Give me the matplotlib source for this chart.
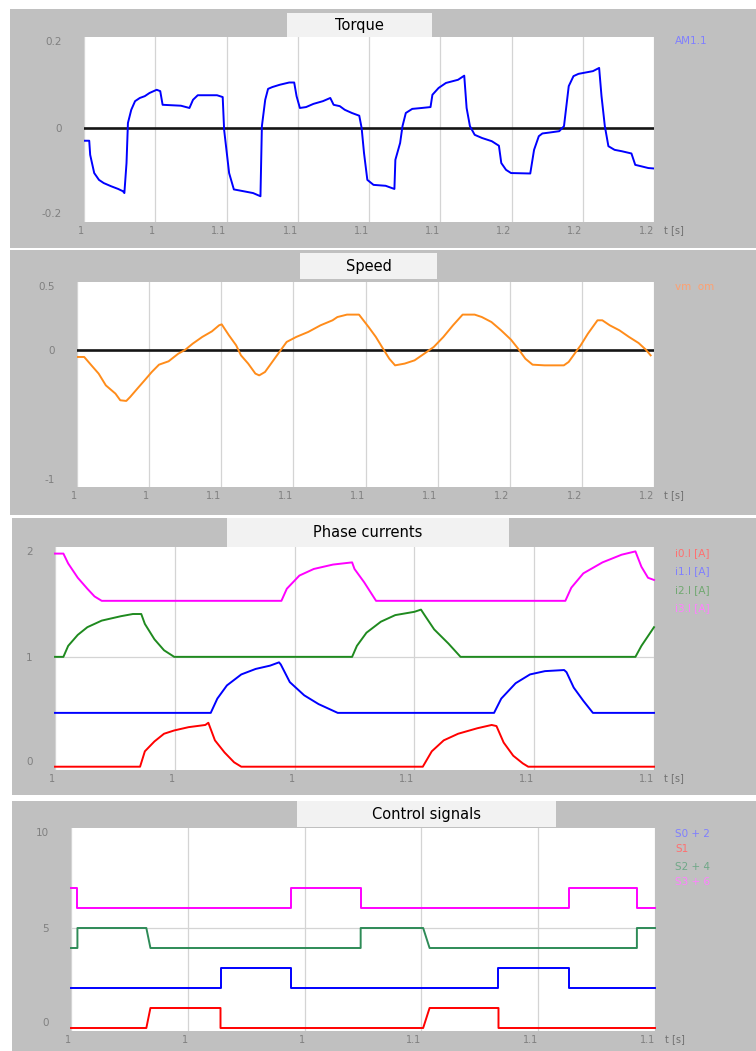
import matplotlib
matplotlib.use("Agg")
import matplotlib.pyplot as plt
from matplotlib.patches import Rectangle

W, H = 756, 1051

# ---------------- data ----------------
torque_t = [1.0000, 1.0022, 1.0026, 1.0043, 1.0063, 1.0083, 1.0114, 1.0144, 1.0164, 1.0170,
            1.0179, 1.0185, 1.0199, 1.0215, 1.0235, 1.0256, 1.0276, 1.0306, 1.0321, 1.0331,
            1.0408, 1.0444, 1.0459, 1.0479, 1.0560, 1.0584, 1.0590, 1.0611, 1.0631, 1.0672,
            1.0712, 1.0743, 1.0749, 1.0763, 1.0775, 1.0793, 1.0824, 1.0864, 1.0885, 1.0895,
            1.0909, 1.0935, 1.0966, 1.1006, 1.1037, 1.1051, 1.1077, 1.1098, 1.1128, 1.1159,
            1.1169, 1.1179, 1.1193, 1.1219, 1.1270, 1.1307, 1.1311, 1.1331, 1.1341, 1.1355,
            1.1382, 1.1422, 1.1459, 1.1467, 1.1493, 1.1524, 1.1575, 1.1601, 1.1611, 1.1625,
            1.1645, 1.1676, 1.1717, 1.1747, 1.1757, 1.1777, 1.1798, 1.1879, 1.1895, 1.1915,
            1.1930, 1.1960, 1.2001, 1.2021, 1.2041, 1.2061, 1.2082, 1.2143, 1.2169, 1.2179,
            1.2193, 1.2208, 1.2234, 1.2264, 1.2305, 1.2321, 1.2345, 1.2376, 1.2400]
torque_v = [-0.028, -0.028, -0.059, -0.099, -0.114, -0.121, -0.128, -0.134, -0.139, -0.143,
            -0.077, 0.011, 0.040, 0.059, 0.066, 0.070, 0.077, 0.084, 0.081, 0.051,
            0.049, 0.044, 0.062, 0.072, 0.072, 0.068, -0.004, -0.099, -0.135, -0.139,
            -0.143, -0.150, 0.004, 0.062, 0.086, 0.090, 0.095, 0.100, 0.100, 0.070,
            0.044, 0.046, 0.053, 0.059, 0.066, 0.051, 0.048, 0.040, 0.033, 0.027,
            0.000, -0.055, -0.114, -0.125, -0.127, -0.134, -0.070, -0.033, 0.004, 0.033,
            0.042, 0.044, 0.046, 0.073, 0.088, 0.099, 0.106, 0.115, 0.044, 0.004,
            -0.015, -0.022, -0.029, -0.039, -0.077, -0.092, -0.099, -0.100, -0.048, -0.018,
            -0.012, -0.010, -0.007, 0.004, 0.092, 0.114, 0.119, 0.125, 0.132, 0.070,
            0.004, -0.040, -0.048, -0.051, -0.056, -0.081, -0.084, -0.088, -0.089]

speed_t = [1.0000, 1.0030, 1.0060, 1.0090, 1.0120, 1.0160, 1.0180, 1.0205, 1.0221, 1.0251,
           1.0281, 1.0311, 1.0341, 1.0381, 1.0421, 1.0451, 1.0481, 1.0521, 1.0561, 1.0591,
           1.0602, 1.0632, 1.0662, 1.0682, 1.0712, 1.0742, 1.0758, 1.0782, 1.0812, 1.0842,
           1.0872, 1.0912, 1.0962, 1.1013, 1.1063, 1.1083, 1.1123, 1.1173, 1.1213, 1.1243,
           1.1273, 1.1299, 1.1323, 1.1363, 1.1404, 1.1444, 1.1484, 1.1524, 1.1564, 1.1604,
           1.1654, 1.1684, 1.1724, 1.1764, 1.1805, 1.1835, 1.1865, 1.1895, 1.1945, 1.2025,
           1.2045, 1.2075, 1.2095, 1.2125, 1.2165, 1.2185, 1.2216, 1.2256, 1.2296, 1.2336,
           1.2366, 1.2386]
speed_v = [-0.054, -0.054, -0.116, -0.177, -0.264, -0.325, -0.374, -0.379, -0.350, -0.288,
           -0.227, -0.165, -0.111, -0.086, -0.030, 0.000, 0.044, 0.094, 0.135, 0.180,
           0.187, 0.106, 0.032, -0.042, -0.103, -0.177, -0.190, -0.165, -0.091, -0.017,
           0.057, 0.094, 0.131, 0.180, 0.217, 0.241, 0.259, 0.259, 0.167, 0.094,
           0.007, -0.067, -0.116, -0.103, -0.079, -0.030, 0.020, 0.094, 0.180, 0.259,
           0.259, 0.241, 0.204, 0.143, 0.074, 0.007, -0.067, -0.111, -0.116, -0.116,
           -0.091, -0.017, 0.032, 0.118, 0.217, 0.217, 0.180, 0.143, 0.094, 0.049,
           0.000, -0.042]

i0_t = [1.0000, 1.0142, 1.0150, 1.0166, 1.0182, 1.0199, 1.0223, 1.0251, 1.0256, 1.0267,
        1.0283, 1.0299, 1.0311, 1.0614, 1.0629, 1.0649, 1.0673, 1.0705, 1.0729, 1.0737,
        1.0749, 1.0765, 1.0781, 1.0790, 1.1000]
i0_v = [0.0, 0.0, 0.14, 0.23, 0.30, 0.33, 0.36, 0.38, 0.40, 0.24,
        0.13, 0.04, 0.0, 0.0, 0.14, 0.24, 0.30, 0.35, 0.38, 0.37,
        0.22, 0.10, 0.03, 0.0, 0.0]

i1_t = [1.0000, 1.0260, 1.0271, 1.0287, 1.0311, 1.0335, 1.0359, 1.0374, 1.0377, 1.0392,
        1.0416, 1.0440, 1.0472, 1.0733, 1.0745, 1.0769, 1.0793, 1.0818, 1.0850, 1.0854,
        1.0866, 1.0882, 1.0898, 1.1000]
i1_v = [0.49, 0.49, 0.62, 0.74, 0.84, 0.89, 0.92, 0.95, 0.93, 0.77,
        0.65, 0.57, 0.49, 0.49, 0.62, 0.76, 0.84, 0.87, 0.88, 0.86,
        0.72, 0.60, 0.49, 0.49]

i2_t = [1.0000, 1.0014, 1.0022, 1.0038, 1.0054, 1.0078, 1.0110, 1.0130, 1.0144, 1.0150,
        1.0166, 1.0182, 1.0199, 1.0496, 1.0504, 1.0520, 1.0544, 1.0568, 1.0600, 1.0611,
        1.0617, 1.0633, 1.0657, 1.0677, 1.0969, 1.0979, 1.1000]
i2_v = [1.0, 1.0, 1.10, 1.20, 1.27, 1.33, 1.37, 1.39, 1.39, 1.30,
        1.16, 1.06, 1.0, 1.0, 1.10, 1.22, 1.32, 1.38, 1.41, 1.43,
        1.38, 1.25, 1.12, 1.0, 1.0, 1.10, 1.27]

i3_t = [1.0000, 1.0014, 1.0022, 1.0038, 1.0054, 1.0066, 1.0078, 1.0378, 1.0387, 1.0408,
        1.0432, 1.0464, 1.0496, 1.0500, 1.0516, 1.0536, 1.0852, 1.0862, 1.0882, 1.0914,
        1.0946, 1.0969, 1.0979, 1.0990, 1.1000]
i3_v = [1.94, 1.94, 1.85, 1.72, 1.62, 1.55, 1.51, 1.51, 1.62, 1.74,
        1.80, 1.84, 1.86, 1.80, 1.68, 1.51, 1.51, 1.63, 1.76, 1.86,
        1.93, 1.96, 1.82, 1.72, 1.70]

s0_t = [1.0000, 1.0256, 1.0256, 1.0377, 1.0377, 1.0732, 1.0732, 1.0852, 1.0852, 1.1000]
s0_v = [0, 0, 1, 1, 0, 0, 1, 1, 0, 0]
s1_t = [1.0000, 1.0129, 1.0136, 1.0256, 1.0256, 1.0603, 1.0614, 1.0732, 1.0732, 1.1000]
s1_v = [0, 0, 1, 1, 0, 0, 1, 1, 0, 0]
s2_t = [1.0000, 1.0011, 1.0011, 1.0129, 1.0136, 1.0496, 1.0496, 1.0603, 1.0614, 1.0969, 1.0969, 1.1000]
s2_v = [0, 0, 1, 1, 0, 0, 1, 1, 0, 0, 1, 1]
s3_t = [1.0000, 1.0011, 1.0011, 1.0377, 1.0377, 1.0496, 1.0496, 1.0852, 1.0852, 1.0969, 1.0969, 1.1000]
s3_v = [1, 1, 0, 0, 1, 1, 0, 0, 1, 1, 0, 0]
s_offsets = [2, 0, 4, 6]

long_ticks = [1.00, 1.03, 1.06, 1.09, 1.12, 1.15, 1.18, 1.21, 1.24]
long_labels = ["1", "1", "1.1", "1.1", "1.1", "1.1", "1.2", "1.2", "1.2"]
short_ticks = [1.00, 1.02, 1.04, 1.06, 1.08, 1.10]
short_labels = ["1", "1", "1", "1.1", "1.1", "1.1"]

torque_yticks, torque_ylabels = [-0.2, 0, 0.2], ["-0.2", "0", "0.2"]
speed_yticks, speed_ylabels = [-1, 0, 0.5], ["-1", "0", "0.5"]
phase_yticks, phase_ylabels = [0, 1, 2], ["0", "1", "2"]
ctrl_yticks, ctrl_ylabels = [0, 5, 10], ["0", "5", "10"]

# ---------------- figure ----------------
fig = plt.figure(figsize=(W / 100, H / 100), dpi=100)
fig.patch.set_facecolor("white")

GRAY = "#c0c0c0"
TICKC = "#808080"


def frect(x0, y0, x1, y1):
    return [x0 / W, 1 - y1 / H, (x1 - x0) / W, (y1 - y0) / H]


def panel(gy0, gy1, gx0, title, tbox, axbox, xlim, ylim, xt, xl, yt, yl, legend, ly):
    fig.patches.append(Rectangle((gx0 / W, 1 - gy1 / H), (W - gx0) / W, (gy1 - gy0) / H,
                                 transform=fig.transFigure, facecolor=GRAY, edgecolor="none", zorder=-3))
    tx0, ty0, tx1, ty1 = tbox
    fig.patches.append(Rectangle((tx0 / W, 1 - ty1 / H), (tx1 - tx0) / W, (ty1 - ty0) / H,
                                 transform=fig.transFigure, facecolor="#f2f2f2", edgecolor="none", zorder=-2))
    fig.text((tx0 + tx1) / 2 / W, 1 - (ty0 + ty1) / 2 / H, title, ha="center", va="center",
             fontsize=10.5, color="black", zorder=2)
    ax = fig.add_axes(frect(*axbox))
    ax.set_zorder(1)
    ax.set_facecolor("white")
    for s in ax.spines.values():
        s.set_visible(False)
    ax.set_xlim(*xlim)
    ax.set_ylim(*ylim)
    ax.set_xticks(xt)
    ax.set_xticklabels(xl, fontsize=7, color=TICKC)
    for lab in ax.get_xticklabels():
        lab.set_ha("right")
    ax.set_yticks(yt)
    ax.set_yticklabels(yl, fontsize=7.5, color=TICKC)
    labs = ax.get_yticklabels()
    labs[0].set_va("bottom")
    labs[-1].set_va("top")
    ax.tick_params(axis="both", length=0)
    ax.tick_params(axis="y", pad=16)
    ax.tick_params(axis="x", pad=3)
    ax.grid(axis="x", color="#d4d4d4", lw=0.9)
    ax.set_axisbelow(True)
    # "t [s]" label
    fig.text((axbox[2] + 10) / W, 1 - (axbox[3] + 8) / H, "t [s]", fontsize=7, color="#707070",
             ha="left", va="center")
    for (txt, col), y in zip(legend, ly):
        fig.text(675 / W, 1 - y / H, txt, fontsize=7.5, color=col, ha="left", va="center")
    return ax


# Panel 1: Torque
ax1 = panel(9, 248, 10, "Torque", (287, 13, 432, 38), (84, 37, 654, 222),
            (1.0, 1.24), (-0.2066, 0.2), long_ticks, long_labels, torque_yticks, torque_ylabels,
            [("AM1.1", "#7f7fff")], [41])
ax1.axhline(0, color="#151515", lw=1.9, zorder=2)
ax1.plot(torque_t, torque_v, color="#0000ff", lw=1.4, zorder=3)

# Panel 2: Speed
ax2 = panel(250, 515, 10, "Speed", (300, 253, 437, 279), (77, 282, 654, 487),
            (1.0, 1.24), (-1.015, 0.5), long_ticks, long_labels, speed_yticks, speed_ylabels,
            [("vm  om", "#ffa070")], [287])
ax2.axhline(0, color="#151515", lw=1.9, zorder=2)
ax2.plot(speed_t, speed_v, color="#ff8c1a", lw=1.4, zorder=3)

# Panel 3: Phase currents
ax3 = panel(518, 795, 12, "Phase currents", (227, 518, 509, 547), (55, 547, 654, 770),
            (1.0, 1.1), (-0.03, 2.0), short_ticks, short_labels, phase_yticks, phase_ylabels,
            [("i0.I [A]", "#ff7070"), ("i1.I [A]", "#7f7fff"), ("i2.I [A]", "#70a870"),
             ("i3.I [A]", "#ff80ff")], [553, 571, 590, 608])
ax3.axhline(1, color="#d4d4d4", lw=0.9, zorder=1)
for tt, vv, col in [(i3_t, i3_v, "#ff00ff"), (i2_t, i2_v, "#1f8a1f"),
                    (i1_t, i1_v, "#0000ff"), (i0_t, i0_v, "#ff0000")]:
    ax3.plot(tt, vv, color=col, lw=1.4, zorder=3, clip_on=False)

# Panel 4: Control signals
ax4 = panel(801, 1051, 12, "Control signals", (297, 801, 556, 827), (71, 828, 655, 1031),
            (1.0, 1.1), (-0.15, 10.0), short_ticks, short_labels, ctrl_yticks, ctrl_ylabels,
            [("S0 + 2", "#7f7fff"), ("S1", "#ff7070"), ("S2 + 4", "#70a888"), ("S3 + 6", "#ff80ff")],
            [834, 849, 867, 882])
ax4.axhline(5, color="#d4d4d4", lw=0.9, zorder=1)
for tt, vv, off, col in [(s3_t, s3_v, s_offsets[3], "#ff00ff"), (s2_t, s2_v, s_offsets[2], "#2e8b57"),
                         (s0_t, s0_v, s_offsets[0], "#0000ff"), (s1_t, s1_v, s_offsets[1], "#ff0000")]:
    ax4.plot(tt, [v + off for v in vv], color=col, lw=1.4, zorder=3, clip_on=False)

fig.savefig("out.png", dpi=100, facecolor="white")
